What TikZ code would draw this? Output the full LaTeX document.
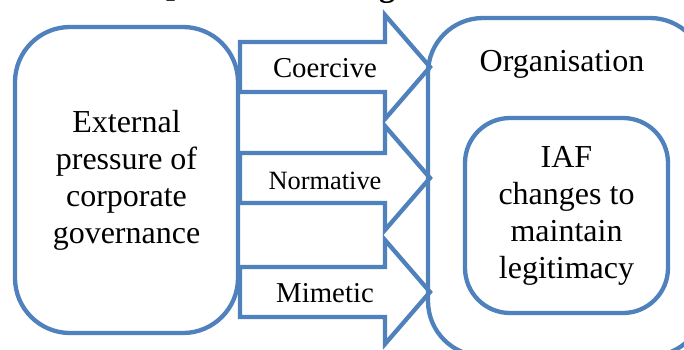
\documentclass[tikz,border=0pt]{standalone}
\usepackage{fontspec}
\setmainfont{Liberation Serif}
\definecolor{frameblue}{RGB}{79,129,189}
\tikzset{
  box/.style={draw=frameblue, line width=4.3pt, align=center, inner sep=0pt},
  big/.style={font=\fontsize{32}{37}\selectfont},
  blockarrow/.style={draw=frameblue, line width=4.3pt, fill=white, line join=miter},
  arrowlabel/.style={anchor=base, inner sep=0pt}
}
\begin{document}
\begin{tikzpicture}[x=1pt,y=-1pt]
  \useasboundingbox (0,0) rectangle (684,349);
  \clip (0,0) rectangle (684,349);
  \fill[white] (0,0) rectangle (684,349);

  % bold heading line above, mostly outside the frame
  \node[font=\bfseries\fontsize{32}{37}\selectfont, anchor=base, inner sep=0pt] (headp) at (175,-5.5) {p};
  \node[font=\bfseries\fontsize{32}{37}\selectfont, anchor=base, inner sep=0pt] (headg) at (387,-3.5) {g};

  % source of pressure
  \node[box, big, rounded corners=55pt, minimum width=223pt, minimum height=306pt]
    (ext) at (126.5,180) {External\\pressure of\\corporate\\governance};

  % three block arrows: shaft 50 high, head 104 high
  \foreach \c/\name in {67/coer, 178/norm, 292/mim}{
    \draw[blockarrow] (240,\c-25) -- (385,\c-25) -- (385,\c-52) -- (430,\c)
      -- (385,\c+52) -- (385,\c+25) -- (240,\c+25) -- cycle;
    \coordinate (\name) at (325,\c);
  }
  \node[arrowlabel, font=\fontsize{28.8}{33}\selectfont] (lc) at (325,77) {Coercive};
  \node[arrowlabel, font=\fontsize{26.4}{30}\selectfont] (ln) at (325,189) {Normative};
  \node[arrowlabel, font=\fontsize{28.8}{33}\selectfont] (lm) at (325,302) {Mimetic};

  % organisation
  \node[box, rounded corners=55pt, minimum width=277pt, minimum height=338pt]
    (org) at (566.5,187) {};
  \node[big, anchor=base, inner sep=0pt] (orgtitle) at (562,71) {Organisation};
  \node[box, big, rounded corners=45pt, minimum width=203pt, minimum height=195pt]
    (iaf) at (566.5,215.5) {IAF\\changes to\\maintain\\legitimacy};
\end{tikzpicture}
\end{document}
